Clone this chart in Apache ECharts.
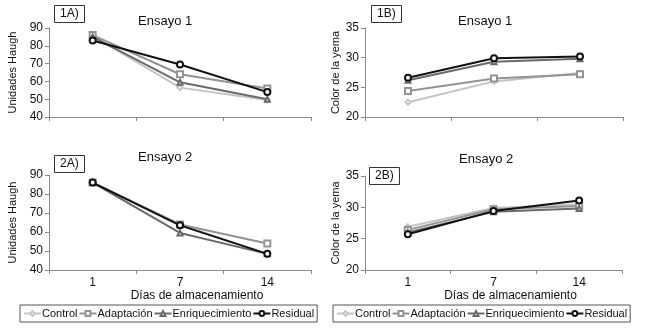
<!DOCTYPE html>
<html lang="es">
<head>
    <meta charset="UTF-8">
    <title>Ensayos</title>
    <script src="https://cdn.jsdelivr.net/npm/echarts@6/dist/echarts.min.js"></script>
    <style>
        html, body { margin: 0; padding: 0; background: #fff; }
        #chart_main { width: 648px; height: 328px; }
    </style>
</head>
<body>
<div id="chart_main"></div>
<script>
  // datos
  var dias = ['1', '7', '14'];
  var nombres = ['Control', 'Adaptación', 'Enriquecimiento', 'Residual'];

  // 1A) Unidades Haugh, ensayo 1
  var control1A = [85.5, 56.5, 49.5];
  var adaptacion1A = [86, 64, 56];
  var enriq1A = [85, 59.5, 50];
  var residual1A = [83, 69.5, 54];

  // 1B) Color de la yema, ensayo 1
  var control1B = [22.5, 26, 27.4];
  var adaptacion1B = [24.4, 26.5, 27.2];
  var enriq1B = [26.2, 29.3, 29.8];
  var residual1B = [26.6, 29.9, 30.2];

  // 2A) Unidades Haugh, ensayo 2
  var control2A = [86, 64, 48.5];
  var adaptacion2A = [86, 64, 54];
  var enriq2A = [86, 59.5, 48.5];
  var residual2A = [86, 63.5, 48.5];

  // 2B) Color de la yema, ensayo 2
  var control2B = [26.9, 29.9, 30.5];
  var adaptacion2B = [26.4, 29.7, 30.2];
  var enriq2B = [26, 29.3, 29.8];
  var residual2B = [25.7, 29.4, 31.1];

  var colores = ['#c4c4c4', '#939393', '#6a6a6a', '#111111'];
  var simbolos = ['emptyDiamond', 'emptyRect', 'emptyTriangle', 'emptyCircle'];
  var tamanos = [5, 6, 5, 6];

  var fuente = 'Liberation Sans, Arial, sans-serif';
  var ejeColor = '#8a8a8a';

  var paneles = [
    {grid: {left: 49, top: 28, width: 262, height: 89}, min: 40, max: 90, interval: 10, nombre: 'Unidades Haugh', gap: 31, etiquetas: false,
      datos: [control1A, adaptacion1A, enriq1A, residual1A]},
    {grid: {left: 365, top: 28, width: 258, height: 89}, min: 20, max: 35, interval: 5, nombre: 'Color de la yema', gap: 19, etiquetas: false,
      datos: [control1B, adaptacion1B, enriq1B, residual1B]},
    {grid: {left: 49, top: 175, width: 262, height: 95}, min: 40, max: 90, interval: 10, nombre: 'Unidades Haugh', gap: 31, etiquetas: true,
      datos: [control2A, adaptacion2A, enriq2A, residual2A]},
    {grid: {left: 365, top: 176, width: 257, height: 94}, min: 20, max: 35, interval: 5, nombre: 'Color de la yema', gap: 19, etiquetas: true,
      datos: [control2B, adaptacion2B, enriq2B, residual2B]}
  ];

  var grids = [], xAxes = [], yAxes = [], series = [];
  paneles.forEach(function(p, i) {
    grids.push(Object.assign({containLabel: false}, p.grid));
    xAxes.push({
      type: 'category', gridIndex: i, data: dias, boundaryGap: true,
      axisLine: {lineStyle: {color: ejeColor}},
      axisTick: {show: true, length: 4, lineStyle: {color: ejeColor}},
      axisLabel: {show: p.etiquetas, color: '#111', fontFamily: fuente, fontSize: 12, margin: 7},
      name: p.etiquetas ? 'Días de almacenamiento' : '',
      nameLocation: 'middle', nameGap: 18,
      nameTextStyle: {color: '#111', fontFamily: fuente, fontSize: 12, padding: [0, 0, 0, 34]}
    });
    yAxes.push({
      type: 'value', gridIndex: i, min: p.min, max: p.max, interval: p.interval,
      splitLine: {show: false},
      axisLine: {show: true, lineStyle: {color: ejeColor}},
      axisTick: {show: true, length: 4, lineStyle: {color: ejeColor}},
      axisLabel: {color: '#111', fontFamily: fuente, fontSize: 12, margin: 6},
      name: p.nombre, nameLocation: 'middle', nameGap: p.gap,
      nameTextStyle: {color: '#111', fontFamily: fuente, fontSize: 11}
    });
    p.datos.forEach(function(d, k) {
      series.push({
        name: nombres[k], type: 'line', xAxisIndex: i, yAxisIndex: i,
        data: d, symbol: simbolos[k], symbolSize: tamanos[k],
        lineStyle: {color: colores[k], width: 2},
        itemStyle: {color: colores[k], borderColor: colores[k], borderWidth: 1.3},
        z: 2 + k, animation: false
      });
    });
  });

  function titulo(texto, x, y, caja) {
    var t = {
      text: texto, left: x, top: y,
      textStyle: {fontFamily: fuente, fontSize: caja ? 12 : 13, fontWeight: 'normal', color: '#111'}
    };
    if (caja) {
      t.borderColor = '#333';
      t.borderWidth = 1;
      t.padding = [3, 6, 3, 6];
    } else {
      t.padding = 0;
    }
    return t;
  }

  function leyenda(x) {
    return {
      data: nombres, left: x, top: 305, width: 320,
      itemWidth: 17, itemHeight: 6, itemGap: 1,
      padding: [3, 3, 3, 3],
      borderColor: '#555', borderWidth: 1,
      textStyle: {fontFamily: fuente, fontSize: 11, color: '#111', padding: [0, 0, 0, -4]}
    };
  }

  var myChart = echarts.init(document.getElementById('chart_main'));
  var option = {
    backgroundColor: '#fff',
    animation: false,
    title: [
      titulo('Ensayo 1', 138, 15, false),
      titulo('Ensayo 1', 458, 15, false),
      titulo('Ensayo 2', 138, 151, false),
      titulo('Ensayo 2', 459, 153, false),
      titulo('1A)', 54, 5, true),
      titulo('1B)', 371, 5, true),
      titulo('2A)', 54, 155, true),
      titulo('2B)', 369, 167, true)
    ],
    legend: [leyenda(20), leyenda(333)],
    grid: grids,
    xAxis: xAxes,
    yAxis: yAxes,
    series: series
  };
  myChart.setOption(option);
</script>
</body>
</html>
